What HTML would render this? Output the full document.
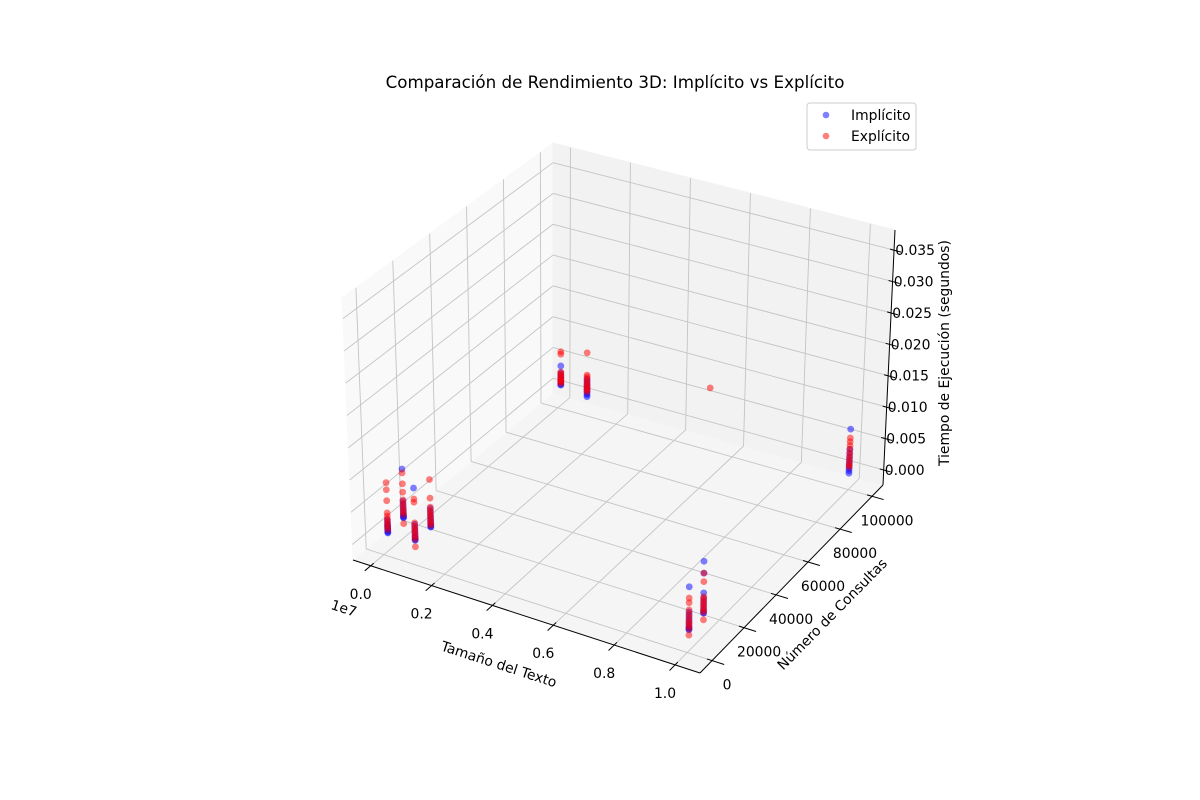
<!DOCTYPE html>
<html>
<head>
<meta charset="utf-8">
<style>
  html,body{margin:0;padding:0;background:#fff;}
  svg{display:block;}
  text{font-family:"DejaVu Sans","Liberation Sans",sans-serif;fill:#000;}
</style>
</head>
<body>
<svg id="chart" width="1200" height="800" viewBox="0 0 1200 800" xmlns="http://www.w3.org/2000/svg">
  <rect x="0" y="0" width="1200" height="800" fill="#ffffff"/>
  <g id="panes"></g>
  <g id="grid"></g>
  <g id="axes"></g>
  <g id="points"></g>
  <g id="labels"></g>
  <text x="615" y="88" font-size="16.7" text-anchor="middle">Comparación de Rendimiento 3D: Implícito vs Explícito</text>
  <text x="499" y="669" font-size="13.9" text-anchor="middle" transform="rotate(18 499 664)">Tamaño del Texto</text>
  <text x="832" y="619" font-size="13.9" text-anchor="middle" transform="rotate(-45.5 832 614)">Número de Consultas</text>
  <text x="944" y="358" font-size="13.9" text-anchor="middle" transform="rotate(-90 944 353)">Tiempo de Ejecución (segundos)</text>
  <text x="344" y="613" font-size="13.9" text-anchor="middle" transform="rotate(18 344 608)">1e7</text>
  <g>
    <rect x="807" y="103" width="109" height="47" rx="3" fill="#ffffff" fill-opacity="0.8" stroke="#cccccc" stroke-width="1"/>
    <circle cx="826" cy="115" r="3.3" fill="rgba(0,0,255,0.5)"/>
    <text x="851" y="120" font-size="13.9">Implícito</text>
    <circle cx="826" cy="136" r="3.3" fill="rgba(255,0,0,0.5)"/>
    <text x="851" y="141" font-size="13.9">Explícito</text>
  </g>
</svg>
<script>
// ---- chart data ----
const groupSizes = [1e5, 1e5, 1e6, 1e6, 1e5, 1e6, 1e7, 1e7, 1e7];
const groupQueries = [1000, 10000, 1000, 10000, 100000, 100000, 1000, 10000, 100000];
const implicitTimes = [
  [0.0030,0.0026,0.0022,0.0020,0.0018,0.0016,0.0014,0.0012,0.0010,0.0009],
  [0.0088,0.0038,0.0033,0.0028,0.0024,0.0020,0.0017,0.0015,0.0013,0.0012],
  [0.0092,0.0036,0.0031,0.0027,0.0023,0.0019,0.0016,0.0014,0.0012,0.0011],
  [0.0040,0.0035,0.0030,0.0026,0.0022,0.0019,0.0016,0.0014,0.0012,0.0011],
  [0.0045,0.0034,0.0030,0.0027,0.0024,0.0021,0.0019,0.0017,0.0015,0.0014],
  [0.0036,0.0032,0.0028,0.0025,0.0022,0.0019,0.0016,0.0013,0.0010,0.0007],
  [0.0073,0.0035,0.0030,0.0025,0.0021,0.0017,0.0013,0.0011,0.0009,0.0008],
  [0.0090,0.0072,0.0042,0.0034,0.0029,0.0024,0.0019,0.0015,0.0012,0.0011],
  [0.0072,0.0040,0.0034,0.0028,0.0023,0.0018,0.0014,0.0010,0.0006,0.0002]
];
const explicitTimes = [
  [0.0087,0.0076,0.0059,0.0040,0.0035,0.0030,0.0026,0.0022,0.0018,0.0014],
  [0.0082,0.0065,0.0052,0.0040,0.0035,0.0030,0.0025,0.0021,0.0017,0.0003],
  [0.0075,0.0070,0.0038,0.0033,0.0029,0.0025,0.0021,0.0017,0.0013,0.0001],
  [0.0085,0.0056,0.0042,0.0037,0.0033,0.0029,0.0025,0.0021,0.0017,0.0014],
  [0.0068,0.0064,0.0035,0.0032,0.0029,0.0026,0.0023,0.0021,0.0019,0.0017],
  [0.0078,0.0042,0.0039,0.0035,0.0031,0.0027,0.0024,0.0021,0.0018,0.0015],
  [0.0056,0.0049,0.0038,0.0032,0.0027,0.0022,0.0018,0.0014,0.0010,0.0000],
  [0.0072,0.0059,0.0036,0.0032,0.0028,0.0024,0.0020,0.0016,0.0013,0.0001],
  [0.0058,0.0052,0.0046,0.0040,0.0034,0.0029,0.0024,0.0019,0.0015,0.0012]
];
const extraExplicitSizes = [5.2e6];
const extraExplicitQueries = [100000];
const extraExplicitTimes = [0.0076];
const xTicks = [0, 0.2e7, 0.4e7, 0.6e7, 0.8e7, 1.0e7];
const xTickLabels = ["0.0","0.2","0.4","0.6","0.8","1.0"];
const yTicks = [0, 20000, 40000, 60000, 80000, 100000];
const yTickLabels = ["0","20000","40000","60000","80000","100000"];
const zTicks = [0, 0.005, 0.010, 0.015, 0.020, 0.025, 0.030, 0.035];
const zTickLabels = ["0.000","0.005","0.010","0.015","0.020","0.025","0.030","0.035"];

// ---- axis limits ----
const xLim = [-0.0582e7, 1.082e7];
const yLim = [-7550, 106866];
const zLim = [-0.0024, 0.0382];

// ---- projected box corners (screen) ----
const C = {
  p000:[353,560], p100:[700,673], p110:[883,485], p010:[553,393],
  p001:[342,298], p101:[702,403], p111:[895,230], p011:[553,143]
};
function projUVW(u,v,w){
  const k = (a,b,c)=>C['p'+a+b+c];
  let x=0,y=0;
  for (const a of [0,1]) for (const b of [0,1]) for (const c of [0,1]) {
    const wt = (a?u:1-u)*(b?v:1-v)*(c?w:1-w);
    const p = k(a,b,c);
    x += wt*p[0]; y += wt*p[1];
  }
  return [x,y];
}
const xScale = x => (x - xLim[0])/(xLim[1]-xLim[0]);
const yScale = y => (y - yLim[0])/(yLim[1]-yLim[0]);
const zScale = z => (z - zLim[0])/(zLim[1]-zLim[0]);
function proj(x,y,z){ return projUVW(xScale(x), yScale(y), zScale(z)); }

const NS = "http://www.w3.org/2000/svg";
function mk(tag, parent){ const e=document.createElementNS(NS,tag); parent.appendChild(e); return e; }
function line(parent, a, b, stroke, sw){
  const l = mk('line', parent);
  l.setAttribute('x1',a[0].toFixed(2)); l.setAttribute('y1',a[1].toFixed(2));
  l.setAttribute('x2',b[0].toFixed(2)); l.setAttribute('y2',b[1].toFixed(2));
  l.setAttribute('stroke',stroke); l.setAttribute('stroke-width',sw);
  return l;
}
function poly(parent, pts, fill){
  const p = mk('polygon', parent);
  p.setAttribute('points', pts.map(q=>q[0]+','+q[1]).join(' '));
  p.setAttribute('fill', fill); p.setAttribute('stroke', fill); p.setAttribute('stroke-width','1');
  return p;
}

// panes
const panes = document.getElementById('panes');
let pn;
pn = poly(panes, [C.p000,C.p100,C.p110,C.p010], '#f5f5f5');


pn = poly(panes, [C.p000,C.p010,C.p011,C.p001], '#f9f9f9');


pn = poly(panes, [C.p010,C.p110,C.p111,C.p011], '#f2f2f2');



// gridlines
const grid = document.getElementById('grid');
const GC = '#c4c4c4', GW = 0.9;
let gl;
xTicks.forEach(t=>{
  const u = xScale(t);
  gl = line(grid, projUVW(u,0,0), projUVW(u,1,0), GC, GW);
  
  
  gl = line(grid, projUVW(u,1,0), projUVW(u,1,1), GC, GW);
  
  
});
yTicks.forEach(t=>{
  const v = yScale(t);
  gl = line(grid, projUVW(0,v,0), projUVW(1,v,0), GC, GW);
  
  
  gl = line(grid, projUVW(0,v,0), projUVW(0,v,1), GC, GW);
  
  
});
zTicks.forEach(t=>{
  const w = zScale(t);
  gl = line(grid, projUVW(0,0,w), projUVW(0,1,w), GC, GW);
  
  
  gl = line(grid, projUVW(0,1,w), projUVW(1,1,w), GC, GW);
  
  
});

// axis lines and ticks
const axes = document.getElementById('axes');
let al;
al = line(axes, C.p000, C.p100, '#000', 1);


al = line(axes, C.p100, C.p110, '#000', 1);


al = line(axes, C.p110, C.p111, '#000', 1);



const labels = document.getElementById('labels');
function label(pos, txt){
  const t = mk('text', labels);
  t.setAttribute('x', pos[0].toFixed(1)); t.setAttribute('y', (pos[1]+5).toFixed(1));
  t.setAttribute('font-size','13.9'); t.setAttribute('text-anchor','middle');
  t.textContent = txt;
  return t;
}
let tk, lb;
xTicks.forEach((t,i)=>{
  const u = xScale(t);
  tk = line(axes, projUVW(u,-0.03,0), projUVW(u,0.015,0), '#000', 1);
  
  
  const p = projUVW(u,0,0);
  lb = label([p[0]-10, p[1]+28], xTickLabels[i]);
  
  
});
yTicks.forEach((t,i)=>{
  const v = yScale(t);
  tk = line(axes, projUVW(0.985,v,0), projUVW(1.035,v,0), '#000', 1);
  
  
  const p = projUVW(1,v,0);
  lb = label([p[0]+15, p[1]+24], yTickLabels[i]);
  
  
});
zTicks.forEach((t,i)=>{
  const w = zScale(t);
  const p = projUVW(1,1,w);
  tk = line(axes, [p[0]-4,p[1]-1], [p[0]+7,p[1]+2], '#000', 1);
  
  
  lb = label([p[0]+21, p[1]], zTickLabels[i]);
  
  
});

// points
const pts = document.getElementById('points');
function dot(x,y,z,color){
  const p = proj(x,y,z);
  const c = mk('circle', pts);
  c.setAttribute('cx', p[0].toFixed(2)); c.setAttribute('cy', p[1].toFixed(2));
  c.setAttribute('r','3.4'); c.setAttribute('fill', color);
  return c;
}
let pt;
groupSizes.forEach((sx,gi)=>{
  implicitTimes[gi].forEach(z=>{
    pt = dot(sx, groupQueries[gi], z, 'rgba(0,0,255,0.5)');
    
    
  });
});
groupSizes.forEach((sx,gi)=>{
  explicitTimes[gi].forEach(z=>{
    pt = dot(sx, groupQueries[gi], z, 'rgba(255,0,0,0.5)');
    
    
  });
});
extraExplicitSizes.forEach((sx,i)=>{
  pt = dot(sx, extraExplicitQueries[i], extraExplicitTimes[i], 'rgba(255,0,0,0.5)');
  
  
});
</script>
</body>
</html>
